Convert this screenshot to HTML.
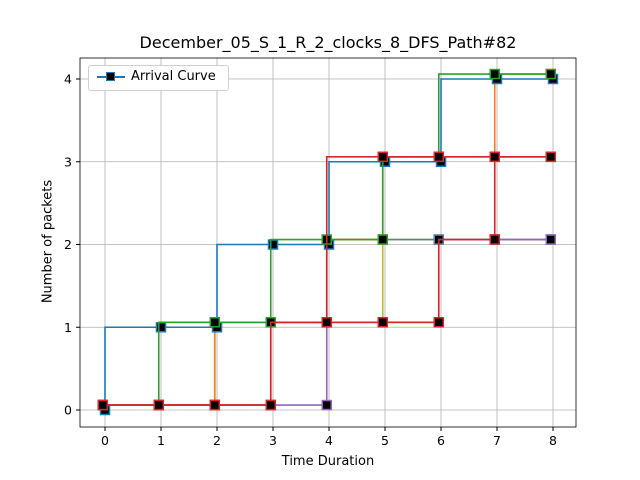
<!DOCTYPE html>
<html><head><meta charset="utf-8"><style>body{margin:0;background:#fff}svg{display:block;font-family:"DejaVu Sans","Liberation Sans",sans-serif}</style></head>
<body>
<svg id="c" width="640" height="480"></svg>
<script>
const xs=[0,1,2,3,4,5,6,7,8];
const arrival=[0,1,1,2,2,3,3,4,4];
const s1=[0,0,0,1,1,2,3,3,4];
const s2=[0,0,1,1,2,2,3,4,4];
const s3=[0,0,0,0,1,3,3,3,3];
const s4=[0,0,0,0,0,1,1,2,2];
const s5=[0,0,0,0,1,1,1,2,3];
const s6=[0,0,0,1,1,1,2,2,2];
const s7=[0,0,0,1,1,2,2,2,2];
const series=[
 {n:'series-olive',c:'#bcbd22',y:s6,o:1},
 {n:'series-blue-b',c:'#5a7fa8',y:s7,o:1},
 {n:'series-purple',c:'#9467bd',y:s4,o:1},
 {n:'series-orange',c:'#ff7f0e',y:s1,o:1},
 {n:'arrival-curve',c:'#1f77b4',y:arrival,o:0},
 {n:'series-green',c:'#2ca02c',y:s2,o:1},
 {n:'series-red-b',c:'#d62728',y:s5,o:1},
 {n:'series-red-a',c:'#d62728',y:s3,o:1}];
const xTicks=[0,1,2,3,4,5,6,7,8], yTicks=[0,1,2,3,4];
const L=80,R=576,T=58,B=427;
const X=v=>105+v*56, Y=v=>410-v*82.75;
const svg=document.getElementById('c'),NS='http://www.w3.org/2000/svg';
function el(t,a,p){const e=document.createElementNS(NS,t);for(const k in a)e.setAttribute(k,a[k]);(p||svg).appendChild(e);return e;}
xTicks.forEach(t=>{const g=el('line',{x1:X(t),x2:X(t),y1:T,y2:B,stroke:'#b0b0b0','stroke-width':0.8});

const k=el('line',{x1:X(t),x2:X(t),y1:B,y2:B+4,stroke:'#000'});
const l=el('text',{x:X(t),y:B+18,'text-anchor':'middle','font-size':12.5});l.textContent=t;
});
yTicks.forEach(t=>{const g=el('line',{x1:L,x2:R,y1:Y(t),y2:Y(t),stroke:'#b0b0b0','stroke-width':0.8});

const k=el('line',{x1:L-4,x2:L,y1:Y(t),y2:Y(t),stroke:'#000'});
const l=el('text',{x:L-8,y:Y(t)+4.5,'text-anchor':'end','font-size':12.5});l.textContent=t;
});
series.forEach(s=>{const dx=s.o?-0.04:0,dy=s.o?0.06:0;
let d='M'+X(xs[0]+dx)+','+Y(s.y[0]+dy);
for(let i=1;i<xs.length;i++){d+=' L'+X(xs[i-1]+dx)+','+Y(s.y[i]+dy)+' L'+X(xs[i]+dx)+','+Y(s.y[i]+dy);}
const p=el('path',{d:d,fill:'none',stroke:s.c,'stroke-width':1.6});

xs.forEach((x,i)=>{const m=el('rect',{x:X(x+dx)-4.5,y:Y(s.y[i]+dy)-4.5,width:9,height:9,fill:'#000',stroke:s.c,'stroke-width':1.5});
});});
const f=el('rect',{x:L,y:T,width:R-L,height:B-T,fill:'none',stroke:'#000','stroke-width':0.8});

</script>
<div style="position:absolute;left:0;top:0;width:640px;height:480px;pointer-events:none">
<div style="position:absolute;left:80px;width:496px;top:33px;text-align:center;font:16px 'DejaVu Sans',sans-serif">December_05_S_1_R_2_clocks_8_DFS_Path#82</div>
<div style="position:absolute;left:80px;width:496px;top:454px;text-align:center;font:13px 'DejaVu Sans',sans-serif">Time Duration</div>
<div style="position:absolute;left:-22px;top:234px;width:140px;text-align:center;transform:rotate(-90deg);font:13px 'DejaVu Sans',sans-serif">Number of packets</div>
<div style="position:absolute;left:88px;top:65px;width:139px;height:24px;border:1px solid #d0d0d0;border-radius:3px;background:#fff">
<div style="position:absolute;left:8px;top:10px;width:28px;height:2px;background:#1f77b4"></div>
<div style="position:absolute;left:17px;top:6px;width:7px;height:7px;background:#000;border:1.5px solid #1f77b4"></div>
<div style="position:absolute;left:42px;top:3px;font:13px 'DejaVu Sans',sans-serif">Arrival Curve</div>
</div></div>
</body></html>
